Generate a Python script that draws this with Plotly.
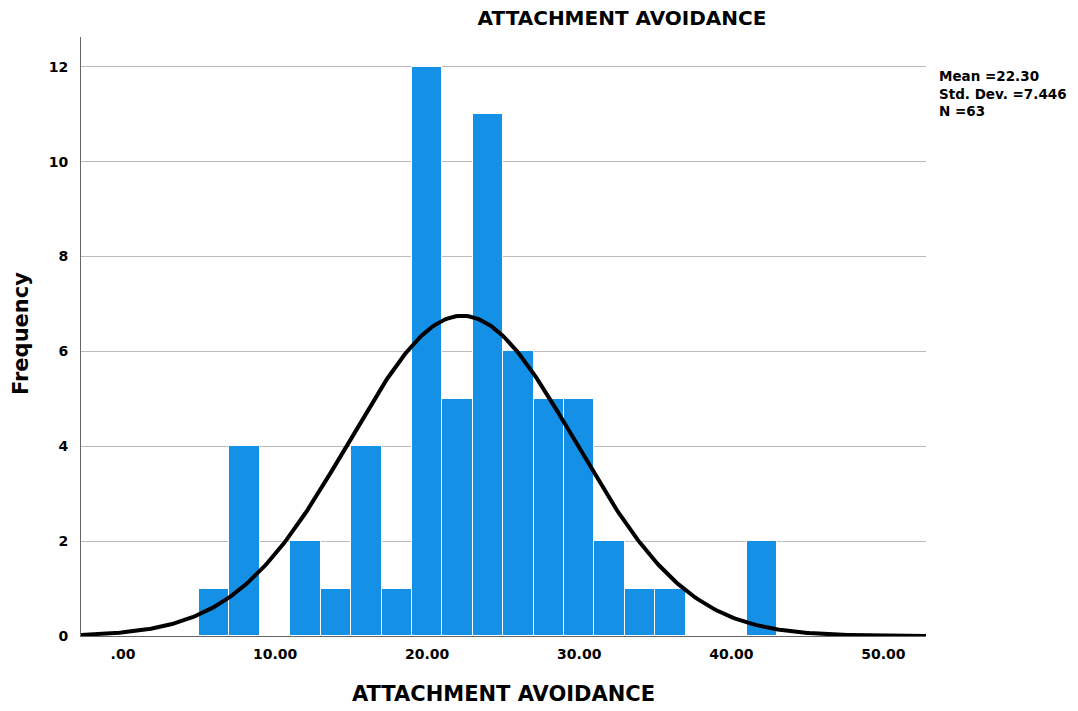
import numpy as np
import plotly.graph_objects as go

bin_left = [5, 7, 9, 11, 13, 15, 17, 19, 21, 23, 25, 27, 29, 31, 33, 35, 37, 39, 41]
counts = [1, 4, 0, 2, 1, 4, 1, 12, 5, 11, 6, 5, 5, 2, 1, 1, 0, 0, 2]
bin_width = 2
mean_v = 22.30
sd_v = 7.446
n_v = 63
x_tick_vals = [0, 10, 20, 30, 40, 50]
x_tick_text = [".00", "10.00", "20.00", "30.00", "40.00", "50.00"]
y_tick_vals = [0, 2, 4, 6, 8, 10, 12]

centers = [b + bin_width / 2 for b in bin_left]
xs = np.linspace(-2.76, 52.8, 400)
ys = n_v * bin_width * np.exp(-0.5 * ((xs - mean_v) / sd_v) ** 2) / (sd_v * np.sqrt(2 * np.pi))

fig = go.Figure()
fig.add_trace(go.Bar(x=centers, y=counts, width=bin_width,
                     marker=dict(color="#1490E6", line=dict(color="white", width=1))))
fig.add_trace(go.Scatter(x=xs, y=ys, mode="lines", line=dict(color="black", width=4)))

font = "DejaVu Sans, sans-serif"
fig.update_layout(
    width=1078, height=711, showlegend=False,
    paper_bgcolor="white", plot_bgcolor="white",
    margin=dict(l=81, r=152, t=37, b=75, autoexpand=False),
    bargap=0,
    title=dict(text="<b>ATTACHMENT AVOIDANCE</b>", x=622 / 1078, xanchor="center", xref="container",
               y=1 - 18 / 711, yanchor="middle", font=dict(family=font, size=20, color="black")),
    font=dict(family=font, color="black"),
)
fig.update_xaxes(range=[-2.76, 52.8], tickvals=x_tick_vals, ticktext=["<b>%s</b>" % t for t in x_tick_text],
                 tickfont=dict(size=14, family=font), showgrid=False, zeroline=False, automargin=False,
                 showline=True, linecolor="#666666", linewidth=1, ticks="", ticklabelstandoff=5,
                 title=dict(text="<b>ATTACHMENT AVOIDANCE</b>", font=dict(size=21, family=font), standoff=25))
fig.update_yaxes(range=[0, 12.63], tickvals=y_tick_vals, ticktext=["<b>%d</b>" % v for v in y_tick_vals],
                 tickfont=dict(size=14, family=font), showgrid=True, gridcolor="#BBBBBB", gridwidth=1,
                 zeroline=False, showline=True, linecolor="#666666", linewidth=1, ticks="", automargin=False,
                 ticklabelstandoff=9)
fig.add_annotation(x=-60 / 845, xref="paper", y=0.5 - (334 - 336.5) / 599, yref="paper",
                   xanchor="center", yanchor="middle", showarrow=False, textangle=-90,
                   text="<b>Frequency</b>", font=dict(size=21, family=font, color="black"))
fig.add_annotation(x=1, xref="paper", xshift=11, y=1 - (66 - 37) / (636 - 37), yref="paper",
                   xanchor="left", yanchor="top", showarrow=False, align="left",
                   text="<b>Mean =22.30<br>Std. Dev. =7.446<br>N =63</b>",
                   font=dict(size=13.5, family=font, color="black"))
fig.write_html("out.html")
